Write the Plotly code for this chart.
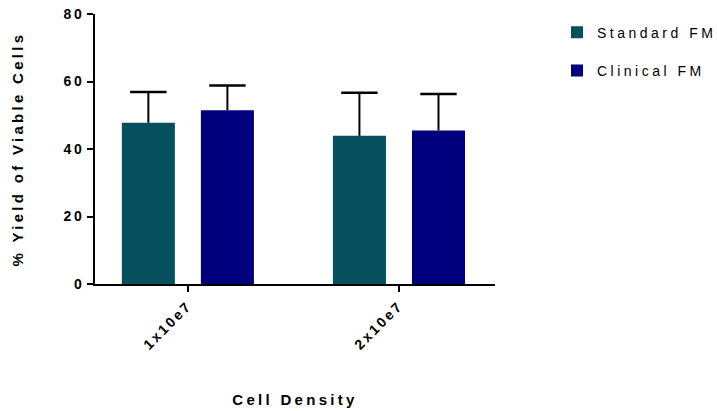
import plotly.graph_objects as go

categories = ["1x10e7", "2x10e7"]
series_names = ["Standard FM", "Clinical FM"]
standard_mean = [47.8, 43.9]
standard_err = [9.1, 12.8]
clinical_mean = [51.5, 45.5]
clinical_err = [7.3, 10.8]
y_ticks = [0, 20, 40, 60, 80]

FONT = "Arial, Liberation Sans, sans-serif"

def spaced(t, px):
    return f'<span style="letter-spacing:{px}px">{t}</span>'

colors = ["#054F5F", "#00007F"]
means = [standard_mean, clinical_mean]
errs = [standard_err, clinical_err]
groups = ["std", "cli"]

fig = go.Figure()
for name, m, e, c, g in zip(series_names, means, errs, colors, groups):
    fig.add_trace(go.Bar(
        x=categories, y=m, name=spaced(name, 3.5), legendgroup=g, offsetgroup=g,
        marker=dict(color=c, line=dict(width=0)),
        error_y=dict(type="data", array=e, arrayminus=[0] * len(e), symmetric=False,
                     color="black", thickness=2, width=0),
    ))
for m, e, g in zip(means, errs, groups):
    fig.add_trace(go.Scatter(
        x=categories, y=[a + b for a, b in zip(m, e)], mode="markers",
        offsetgroup=g, legendgroup=g, showlegend=False, hoverinfo="skip",
        marker=dict(symbol="line-ew", size=26, color="black",
                    line=dict(width=2.5, color="black")),
    ))

fig.update_layout(
    width=717, height=411,
    margin=dict(l=95, r=222, t=14, b=127, autoexpand=False),
    plot_bgcolor="white", paper_bgcolor="white",
    barmode="group", bargap=0.251, bargroupgap=0.329,
    scattermode="group", scattergap=0.251,
    font=dict(family=FONT, color="black", size=13),
    showlegend=True,
    legend=dict(x=1.155, y=0.99, xanchor="left", yanchor="top",
                font=dict(family=FONT, size=14, color="black"),
                traceorder="grouped", tracegroupgap=17, itemwidth=30,
                bgcolor="rgba(0,0,0,0)"),
    xaxis=dict(
        range=[-0.44, 1.455], showline=True, linecolor="black", linewidth=2,
        ticks="outside", ticklen=6, tickwidth=2, tickcolor="black",
        tickangle=-45, showgrid=False, zeroline=False,
        tickfont=dict(family=FONT, size=14, weight="bold"),
        tickvals=categories, ticktext=[spaced(c, 2.5) for c in categories],
        title=dict(text=spaced("Cell Density", 3.3), standoff=43,
                   font=dict(family=FONT, size=15, weight="bold")),
    ),
    yaxis=dict(
        range=[0, 80], tickvals=y_ticks, showline=True, linecolor="black", linewidth=2,
        ticks="outside", ticklen=6, tickwidth=2, tickcolor="black",
        showgrid=False, zeroline=False,
        tickfont=dict(family=FONT, size=14, weight="bold"),
        ticktext=[spaced(str(v), 2.5) for v in y_ticks],
        title=dict(text=spaced("% Yield of Viable Cells", 3.3), standoff=36,
                   font=dict(family=FONT, size=15, weight="bold")),
    ),
)

fig.write_html("out.html")
